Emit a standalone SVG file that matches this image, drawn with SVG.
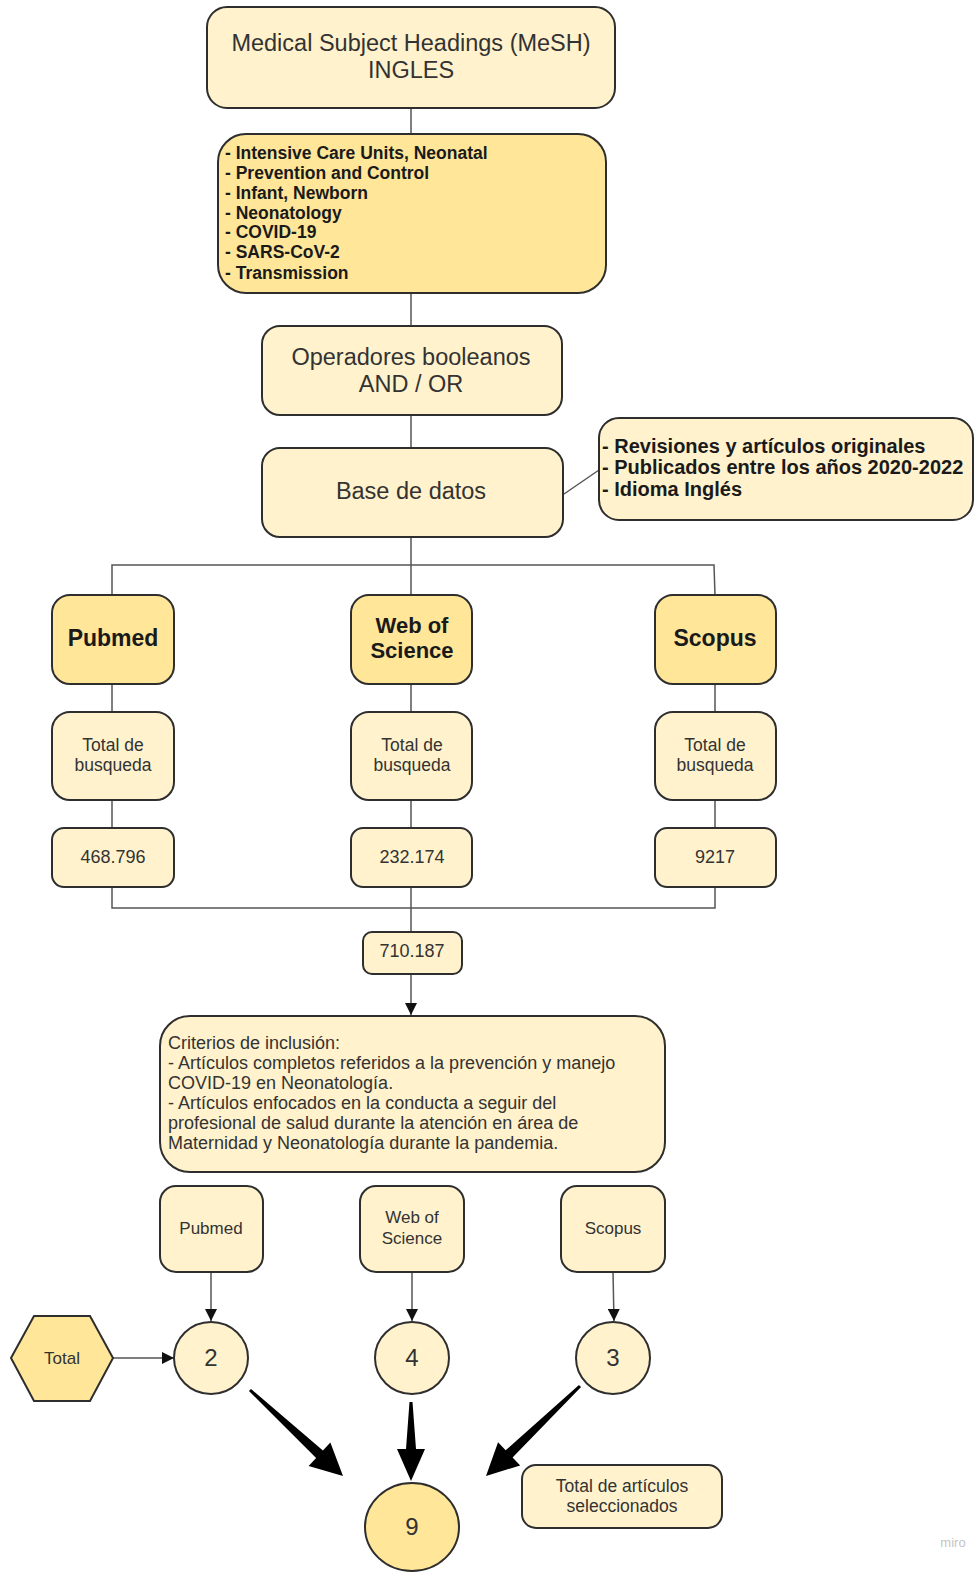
<svg xmlns="http://www.w3.org/2000/svg" width="977" height="1578" viewBox="0 0 977 1578">
<defs>
<style>
.lt{fill:#FFF2CC;stroke:#2e2e2e;stroke-width:2}
.dk{fill:#FFE699;stroke:#2e2e2e;stroke-width:2}
.t{font-family:"Liberation Sans",Arial,sans-serif;fill:#333333}
.b{font-weight:bold;fill:#1a1a1a}
.c{text-anchor:middle}
.ln{fill:none;stroke:#555555;stroke-width:1.5}
.big{fill:#000000}
</style>
<marker id="ah" viewBox="0 0 12 12" refX="12" refY="6" markerWidth="12" markerHeight="12" markerUnits="userSpaceOnUse" orient="auto">
<path d="M0,0 L12,6 L0,12 Z" fill="#111111"/>
</marker>
</defs>
<rect width="977" height="1578" fill="#ffffff"/>

<g id="connectors">
<line class="ln" x1="411" y1="108" x2="411" y2="134"/>
<line class="ln" x1="411" y1="293" x2="411" y2="326"/>
<line class="ln" x1="411" y1="415" x2="411" y2="448"/>
<line class="ln" x1="564" y1="494" x2="599" y2="470"/>
<path class="ln" d="M411,537 V595 M112,595 V565 H714 L715,595"/>
<line class="ln" x1="112" y1="684" x2="112" y2="712"/>
<line class="ln" x1="411" y1="684" x2="411" y2="712"/>
<line class="ln" x1="715" y1="684" x2="715" y2="712"/>
<line class="ln" x1="112" y1="800" x2="112" y2="828"/>
<line class="ln" x1="411" y1="800" x2="411" y2="828"/>
<line class="ln" x1="715" y1="800" x2="715" y2="828"/>
<path class="ln" d="M112,887 V908 H715 V887 M411,887 V932"/>
<line class="ln" x1="411" y1="974" x2="411" y2="1015" marker-end="url(#ah)" stroke="#222"/>
<line class="ln" x1="211" y1="1272" x2="211" y2="1321" marker-end="url(#ah)" stroke="#222"/>
<line class="ln" x1="412" y1="1272" x2="412" y2="1321" marker-end="url(#ah)" stroke="#222"/>
<line class="ln" x1="613" y1="1272" x2="614" y2="1321" marker-end="url(#ah)" stroke="#222"/>
<line class="ln" x1="113" y1="1358" x2="174" y2="1358" marker-end="url(#ah)" stroke="#222"/>
<polygon class="big" points="251.02,1388.90 322.91,1450.60 330.37,1442.53 343,1476 308.65,1466.01 316.11,1457.94 248.98,1391.10"/>
<polygon class="big" points="412.5,1402 416,1449 425,1449 411,1481 397,1449 406,1449 409.5,1402"/>
<polygon class="big" points="578.96,1384.92 505.66,1450.25 498.05,1442.30 486,1476 520.19,1465.42 512.58,1457.47 581.04,1387.08"/>
</g>

<g id="mesh">
<rect class="lt" x="207" y="7" width="408" height="101" rx="20"/>
<text class="t c" x="411" y="51" font-size="23.5">Medical Subject Headings (MeSH)</text>
<text class="t c" x="411" y="78" font-size="23.5">INGLES</text>
</g>

<g id="terms">
<rect class="dk" x="218" y="134" width="388" height="159" rx="28"/>
<text class="t b" x="225" font-size="17.5"><tspan x="225" y="159">- Intensive Care Units, Neonatal</tspan><tspan x="225" y="179">- Prevention and Control</tspan><tspan x="225" y="199">- Infant, Newborn</tspan><tspan x="225" y="219">- Neonatology</tspan><tspan x="225" y="238">- COVID-19</tspan><tspan x="225" y="258">- SARS-CoV-2</tspan><tspan x="225" y="279">- Transmission</tspan></text>
</g>

<g id="operadores">
<rect class="lt" x="262" y="326" width="300" height="89" rx="18"/>
<text class="t c" x="411" y="365" font-size="23.5">Operadores booleanos</text>
<text class="t c" x="411" y="392" font-size="23.5">AND / OR</text>
</g>

<g id="base">
<rect class="lt" x="262" y="448" width="301" height="89" rx="18"/>
<text class="t c" x="411" y="499" font-size="23.5">Base de datos</text>
</g>

<g id="filtros">
<rect class="lt" x="599" y="418" width="374" height="102" rx="20"/>
<text class="t b" font-size="20"><tspan x="602" y="453">- Revisiones y artículos originales</tspan><tspan x="602" y="474">- Publicados entre los años 2020-2022</tspan><tspan x="602" y="496">- Idioma Inglés</tspan></text>
</g>

<g id="pubmed">
<rect class="dk" x="52" y="595" width="122" height="89" rx="18"/>
<text class="t b c" x="113" y="646" font-size="23">Pubmed</text>
</g>
<g id="wos">
<rect class="dk" x="351" y="595" width="121" height="89" rx="18"/>
<text class="t b c" x="412" y="633" font-size="22">Web of</text>
<text class="t b c" x="412" y="658" font-size="22">Science</text>
</g>
<g id="scopus">
<rect class="dk" x="655" y="595" width="121" height="89" rx="18"/>
<text class="t b c" x="715" y="646" font-size="23">Scopus</text>
</g>

<g id="total-pubmed">
<rect class="lt" x="52" y="712" width="122" height="88" rx="18"/>
<text class="t c" x="113" y="751" font-size="17.5">Total de</text>
<text class="t c" x="113" y="771" font-size="17.5">busqueda</text>
</g>
<g id="total-wos">
<rect class="lt" x="351" y="712" width="121" height="88" rx="18"/>
<text class="t c" x="412" y="751" font-size="17.5">Total de</text>
<text class="t c" x="412" y="771" font-size="17.5">busqueda</text>
</g>
<g id="total-scopus">
<rect class="lt" x="655" y="712" width="121" height="88" rx="18"/>
<text class="t c" x="715" y="751" font-size="17.5">Total de</text>
<text class="t c" x="715" y="771" font-size="17.5">busqueda</text>
</g>

<g id="n-pubmed">
<rect class="lt" x="52" y="828" width="122" height="59" rx="12"/>
<text class="t c" x="113" y="863" font-size="18">468.796</text>
</g>
<g id="n-wos">
<rect class="lt" x="351" y="828" width="121" height="59" rx="12"/>
<text class="t c" x="412" y="863" font-size="18">232.174</text>
</g>
<g id="n-scopus">
<rect class="lt" x="655" y="828" width="121" height="59" rx="12"/>
<text class="t c" x="715" y="863" font-size="18">9217</text>
</g>

<g id="suma">
<rect class="lt" x="363" y="932" width="99" height="42" rx="9"/>
<text class="t c" x="412" y="957" font-size="18">710.187</text>
</g>

<g id="criterios">
<rect class="lt" x="160" y="1016" width="505" height="156" rx="30"/>
<text class="t" font-size="18"><tspan x="168" y="1049">Criterios de inclusión:</tspan><tspan x="168" y="1069">- Artículos completos referidos a la prevención y manejo</tspan><tspan x="168" y="1089">COVID-19 en Neonatología.</tspan><tspan x="168" y="1109">- Artículos enfocados en la conducta a seguir del</tspan><tspan x="168" y="1129">profesional de salud durante la atención en área de</tspan><tspan x="168" y="1149">Maternidad y Neonatología durante la pandemia.</tspan></text>
</g>

<g id="sel-pubmed">
<rect class="lt" x="160" y="1186" width="103" height="86" rx="16"/>
<text class="t c" x="211" y="1234" font-size="17">Pubmed</text>
</g>
<g id="sel-wos">
<rect class="lt" x="360" y="1186" width="104" height="86" rx="16"/>
<text class="t c" x="412" y="1223" font-size="17">Web of</text>
<text class="t c" x="412" y="1244" font-size="17">Science</text>
</g>
<g id="sel-scopus">
<rect class="lt" x="561" y="1186" width="104" height="86" rx="16"/>
<text class="t c" x="613" y="1234" font-size="17">Scopus</text>
</g>

<g id="total-hex">
<polygon class="dk" points="11,1358 34,1316 90,1316 113,1358 90,1401 34,1401"/>
<text class="t c" x="62" y="1364" font-size="17">Total</text>
</g>

<g id="c2">
<ellipse class="lt" cx="211" cy="1358" rx="37" ry="36"/>
<text class="t c" x="211" y="1366" font-size="24">2</text>
</g>
<g id="c4">
<ellipse class="lt" cx="412" cy="1358" rx="37" ry="36"/>
<text class="t c" x="412" y="1366" font-size="24">4</text>
</g>
<g id="c3">
<ellipse class="lt" cx="613" cy="1358" rx="37" ry="36"/>
<text class="t c" x="613" y="1366" font-size="24">3</text>
</g>

<g id="c9">
<ellipse class="dk" cx="412" cy="1527" rx="47" ry="44"/>
<text class="t c" x="412" y="1535" font-size="24">9</text>
</g>

<g id="label-total">
<rect class="lt" x="522" y="1465" width="200" height="63" rx="14"/>
<text class="t c" x="622" y="1492" font-size="17.5">Total de artículos</text>
<text class="t c" x="622" y="1512" font-size="17.5">seleccionados</text>
</g>

<text x="953" y="1547" font-family="Liberation Sans,Arial,sans-serif" font-size="13" fill="#c4c4c4" text-anchor="middle">miro</text>
</svg>
